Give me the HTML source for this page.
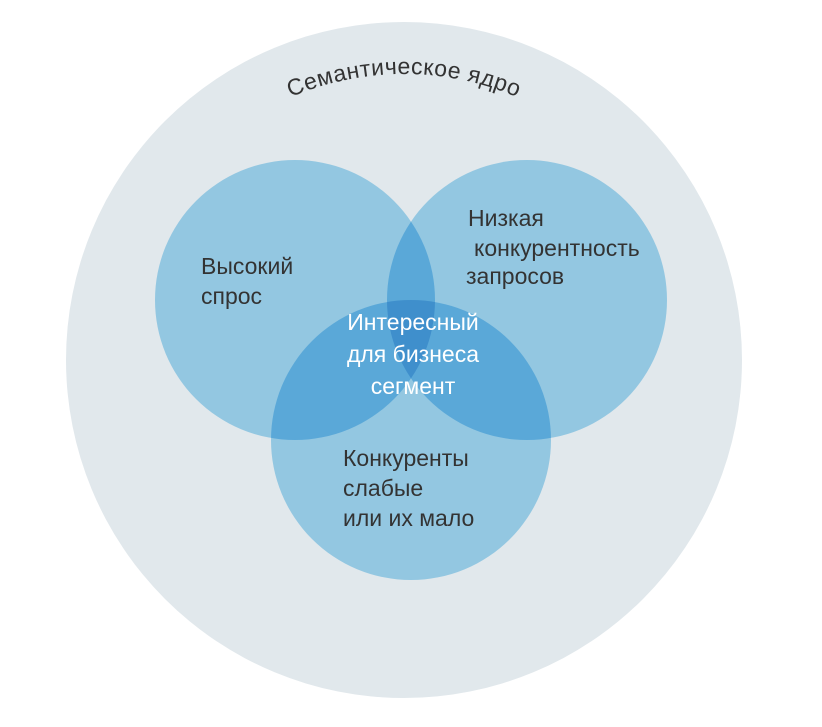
<!DOCTYPE html><html><head><style>body{margin:0;background:#fff}svg{display:block}text{font-family:"Liberation Sans","DejaVu Sans",sans-serif}</style></head><body>
<svg width="822" height="727" viewBox="0 0 822 727">
<defs>
<clipPath id="cA"><circle cx="295" cy="300" r="140"/></clipPath>
<clipPath id="cB"><circle cx="527" cy="300" r="140"/></clipPath>
<clipPath id="cC"><circle cx="411" cy="440" r="140"/></clipPath>
<path id="arc" d="M 116 362 A 288 288 0 0 1 692 362"/>
</defs>
<circle cx="404" cy="360" r="338" fill="#e1e8ec"/>
<text font-size="23" fill="#333" letter-spacing="0.5"><textPath href="#arc" startOffset="50%" text-anchor="middle">Семантическое ядро</textPath></text>
<g fill="#93c7e1">
<circle cx="295" cy="300" r="140"/><circle cx="527" cy="300" r="140"/><circle cx="411" cy="440" r="140"/>
</g>
<g fill="#5aa8d8">
<circle cx="527" cy="300" r="140" clip-path="url(#cA)"/>
<circle cx="411" cy="440" r="140" clip-path="url(#cA)"/>
<circle cx="411" cy="440" r="140" clip-path="url(#cB)"/>
</g>
<g clip-path="url(#cA)"><circle cx="411" cy="440" r="140" fill="#3f8fcc" clip-path="url(#cB)"/></g>
<g font-size="23" fill="#333">
<text x="201" y="274">Высокий</text><text x="201" y="304">спрос</text>
<text x="468" y="226">Низкая</text><text x="474" y="256">конкурентность</text><text x="466" y="284">запросов</text>
<text x="343" y="466">Конкуренты</text><text x="343" y="496">слабые</text><text x="343" y="526">или их мало</text>
</g>
<g font-size="23" fill="#fff" text-anchor="middle">
<text x="413" y="330">Интересный</text><text x="413" y="362">для бизнеса</text><text x="413" y="394">сегмент</text>
</g>
</svg></body></html>
